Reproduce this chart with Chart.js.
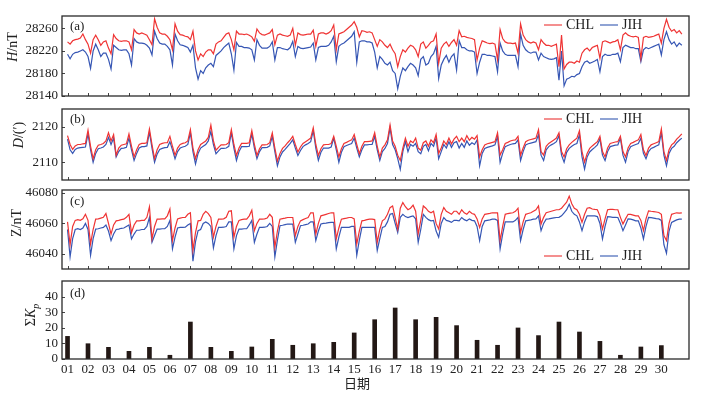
<!DOCTYPE html>
<html>
<head>
<meta charset="utf-8">
<script src="https://cdn.jsdelivr.net/npm/chart.js@4.4.0/dist/chart.umd.min.js"></script>
<style>
  html, body { margin: 0; padding: 0; background: #fff; }
  #wrap { position: relative; width: 702px; height: 394px; }
  #wrap canvas { position: absolute; left: 0; top: 0; }
</style>
</head>
<body>
<div id="wrap">
  <canvas id="chartH" width="702" height="394"></canvas>
  <canvas id="chartD" width="702" height="394"></canvas>
  <canvas id="chartZ" width="702" height="394"></canvas>
  <canvas id="chartKp" width="702" height="394"></canvas>
</div>
<script>
const days = ["01","02","03","04","05","06","07","08","09","10","11","12","13","14","15",
  "16","17","18","19","20","21","22","23","24","25","26","27","28","29","30"];

// daily sum of Kp
const kpSum = [14.5, 9.8, 7.5, 4.9, 7.5, 2.4, 23.7, 7.5, 4.9, 7.7, 12.6, 8.8, 9.8, 10.7, 16.7,
  25.2, 32.7, 25.2, 26.7, 21.4, 12, 8.8, 19.9, 15, 23.7, 17.3, 11.3, 2.4, 7.7, 8.6];

const hTicks = [28140, 28180, 28220, 28260];
const dTicks = [2110, 2120];
const zTicks = [46040, 46060, 46080];
const kpTicks = [0, 10, 20, 30, 40];

// 3-hourly readings (8 per day) + last point
const hCHL = [
  28236,28232,28238,28240,28241,28243,28250,28240, 28232,28216,28240,28248,28240,28230,28236,28238,
  28225,28215,28249,28242,28238,28237,28238,28238, 28236,28222,28258,28252,28250,28252,28250,28248,
  28240,28231,28277,28262,28252,28250,28250,28246, 28240,28222,28268,28255,28249,28248,28246,28245,
  28240,28255,28220,28204,28215,28210,28218,28222, 28222,28215,28232,28236,28238,28244,28250,28252,
  28240,28222,28255,28250,28250,28249,28250,28248, 28245,28237,28259,28252,28249,28248,28250,28252,
  28258,28231,28248,28250,28248,28247,28246,28248, 28260,28230,28252,28249,28248,28249,28250,28250,
  28257,28228,28250,28252,28252,28250,28252,28256, 28266,28222,28250,28252,28254,28258,28262,28266,
  28272,28262,28245,28256,28255,28253,28254,28252, 28240,28228,28240,28236,28230,28226,28232,28222,
  28215,28192,28210,28222,28218,28225,28230,28228, 28222,28210,28232,28236,28225,28230,28236,28238,
  28250,28198,28225,28232,28236,28228,28235,28240, 28230,28256,28245,28246,28244,28243,28242,28240,
  28204,28225,28238,28236,28234,28233,28234,28232, 28204,28258,28242,28236,28234,28234,28233,28234,
  28216,28268,28248,28240,28236,28234,28236,28234, 28222,28240,28234,28230,28230,28228,28230,28232,
  28192,28248,28188,28196,28200,28200,28198,28202, 28200,28216,28222,28225,28220,28226,28228,28230,
  28207,28236,28238,28236,28234,28236,28237,28240, 28222,28248,28252,28248,28246,28245,28246,28244,
  28207,28244,28246,28244,28245,28246,28248,28250, 28234,28260,28276,28262,28255,28258,28252,28256,
  28250
];
const hJIH = [
  28214,28206,28214,28217,28218,28220,28222,28218, 28210,28189,28220,28232,28222,28210,28216,28216,
  28205,28188,28230,28226,28222,28221,28222,28222, 28215,28195,28242,28236,28234,28234,28233,28230,
  28225,28213,28255,28242,28234,28232,28232,28228, 28222,28195,28250,28238,28231,28230,28228,28226,
  28218,28230,28190,28170,28185,28180,28190,28195, 28198,28192,28212,28216,28220,28226,28230,28234,
  28215,28186,28235,28228,28228,28226,28226,28225, 28222,28204,28240,28230,28225,28225,28225,28228,
  28236,28204,28226,28226,28224,28223,28222,28226, 28237,28210,28228,28225,28224,28225,28226,28227,
  28234,28204,28226,28228,28228,28228,28230,28236, 28246,28201,28228,28232,28234,28238,28242,28246,
  28254,28200,28236,28238,28238,28236,28236,28234, 28218,28190,28210,28205,28198,28195,28200,28185,
  28180,28153,28175,28190,28185,28192,28198,28195, 28190,28176,28205,28210,28195,28198,28210,28215,
  28228,28171,28195,28205,28212,28200,28210,28215, 28186,28238,28226,28226,28222,28220,28220,28218,
  28180,28200,28214,28214,28212,28212,28211,28210, 28183,28234,28220,28214,28212,28212,28212,28212,
  28192,28250,28230,28222,28218,28216,28218,28218, 28204,28216,28210,28208,28206,28205,28206,28208,
  28168,28220,28158,28170,28172,28175,28174,28178, 28180,28192,28200,28202,28198,28200,28202,28205,
  28183,28210,28214,28212,28212,28214,28214,28216, 28201,28226,28230,28228,28226,28226,28224,28224,
  28201,28222,28226,28224,28226,28228,28230,28232, 28213,28240,28254,28240,28232,28236,28228,28234,
  28230
];

const dCHL = [
  2117.5,2115,2113.6,2114.6,2115,2115,2115.2,2115.3, 2119,2114.5,2111,2113.5,2114.8,2115,2115.3,2116,
  2118.3,2116,2117.8,2112,2114,2114.8,2115,2115.2, 2118,2114.5,2111.5,2113.5,2115,2115.3,2115.3,2115.5,
  2119.4,2115,2111,2113.5,2115,2115.3,2115.5,2115.5, 2117.3,2114.5,2112,2114,2115,2115.3,2115.5,2116,
  2119.2,2114,2111,2113.5,2115,2115.5,2116,2117, 2120.5,2116,2113.4,2114.2,2114.9,2114.9,2115,2115.5,
  2119.2,2115,2111.9,2114,2115.3,2115.3,2115.3,2115.5, 2118.9,2115,2111.9,2113.8,2114.9,2114.9,2115,2115.5,
  2118.3,2114,2110.3,2112.5,2113.9,2114.6,2115.5,2116.3, 2117.3,2115,2112.9,2114.3,2115.3,2115.8,2116.3,2116.8,
  2119.7,2115,2111.9,2113.8,2114.9,2115,2115,2115.3, 2117.3,2114.5,2111.5,2113.8,2115.3,2115.6,2116,2116.3,
  2117.8,2115,2112.4,2114.5,2115.8,2115.8,2115.9,2116, 2118.3,2114.5,2111.5,2114,2114.9,2116.3,2120.5,2116,
  2114.5,2112,2110.5,2114,2116.8,2114.5,2116,2115.5, 2116.8,2114,2113.4,2115.5,2116,2114.5,2116.3,2115.5,
  2117.8,2112.5,2114,2116,2115,2116.8,2115.2,2116.5, 2117.3,2115.8,2116.8,2115.8,2117.5,2116.2,2117,2116.5,
  2117.5,2111.5,2113.5,2114.9,2115.2,2115.4,2115.6,2115.8, 2118.3,2112,2113.5,2115.3,2115.6,2116,2116.2,2116.3,
  2117.3,2112,2114,2115.8,2116.2,2116.4,2116.6,2116.8, 2119.2,2113,2112,2114.5,2115.3,2115.8,2116.3,2116.8,
  2118.3,2113,2111.5,2113.8,2114.9,2115.6,2116.2,2116.8, 2118.9,2113,2110,2112.5,2113.9,2114.6,2115.2,2115.8,
  2117.3,2113,2111.5,2114,2115.3,2115.5,2115.7,2115.8, 2117.3,2113,2111.5,2114,2115.3,2115.6,2116,2116.3,
  2117.8,2113.5,2111.9,2114,2114.9,2115.2,2115.5,2115.8, 2119.4,2113,2110.5,2113.5,2114.9,2115.5,2116.5,2117.2,
  2118
];
const dJIH = [
  2116.5,2113.5,2112.5,2113.6,2114,2114.1,2114.2,2114.3, 2118,2113.5,2110,2112.5,2113.8,2114,2114.3,2115,
  2117,2115,2116.8,2111.5,2113,2113.9,2114,2114.2, 2116.8,2113.5,2110.5,2112.5,2114,2114.4,2114.4,2114.6,
  2118.5,2114,2110,2112.3,2113.6,2113.9,2114.1,2114.2, 2115.8,2113.5,2111,2113,2114,2114.3,2114.5,2115,
  2118.3,2113,2109.5,2112.5,2114,2114.5,2115,2116, 2118.7,2115,2112.4,2113.2,2113.9,2113.9,2114,2114.5,
  2118.3,2114,2110.5,2113,2114.4,2114.4,2114.4,2114.5, 2118,2114,2111,2113,2114.1,2114.1,2114.2,2114.6,
  2117.3,2113,2109,2111.5,2112.9,2113.6,2114.5,2115.3, 2116.3,2114,2111.9,2113.3,2114.4,2114.9,2115.3,2115.8,
  2118.9,2114,2110.5,2112.8,2114,2114,2114,2114.3, 2116.8,2113.5,2110,2112.8,2114.4,2114.7,2115,2115.3,
  2116.8,2114,2111.5,2113.5,2114.9,2114.9,2115,2115, 2117.3,2113.5,2110.5,2113,2113.9,2115.3,2119.7,2115,
  2113.5,2111,2108,2113,2115.8,2113,2115,2114.5, 2115.3,2113,2112.4,2114.5,2115,2113.2,2115.3,2114.5,
  2116.8,2111,2113,2115,2114,2115.8,2114.2,2115.5, 2115.8,2114,2115.3,2114.2,2116,2114.8,2115.5,2115,
  2116.3,2109,2112.5,2113.9,2114.2,2114.4,2114.6,2114.9, 2117.3,2110,2112.5,2114.4,2114.7,2115,2115.2,2115.3,
  2116.3,2110.5,2113,2114.9,2115.2,2115.4,2115.6,2115.8, 2117.8,2112,2110.5,2113.5,2114.4,2114.9,2115.3,2115.8,
  2117.5,2112,2110,2112.8,2113.9,2114.5,2115,2115.3, 2117.8,2111.5,2108.1,2111.5,2112.9,2113.6,2114.2,2114.9,
  2116.6,2112,2110.5,2113,2114.4,2114.6,2114.8,2114.9, 2116.8,2112,2110,2113,2114.4,2114.7,2115,2115.3,
  2116.8,2112.5,2111,2113,2113.9,2114.2,2114.6,2114.9, 2118.3,2112,2109,2112.5,2113.9,2114.5,2115.5,2116.2,
  2116.8
];

const zCHL = [
  46061,46046,46058,46062,46062.5,46062,46063,46066, 46062,46046.5,46056,46062.8,46063,46063.5,46064,46066.5,
  46060,46053,46059,46061.7,46062,46062.5,46062.8,46064, 46066,46054,46059,46061.7,46061.7,46062,46062,46064,
  46071,46049.8,46058,46062.8,46062.8,46063,46063,46065, 46069.5,46048.7,46057,46063,46063.5,46063.9,46064,46066,
  46067,46042.2,46054,46061.7,46062,46066,46068,46066.5, 46064,46050.9,46058,46062.8,46062.8,46063,46064,46068,
  46068.3,46050.9,46058,46062,46062.5,46062.8,46062.8,46065, 46068.7,46055.2,46060,46062.8,46062.8,46063,46063.5,46066,
  46064,46044.3,46055,46062.8,46063.2,46063.5,46063.9,46063.9, 46063.9,46052,46058,46061.7,46062.5,46063.2,46063.9,46067,
  46067,46053,46060,46065,46065.5,46066,46066.5,46067, 46067,46049.8,46057,46062.8,46063.2,46063.5,46063.9,46063.9,
  46063,46046.5,46055,46061.7,46062,46062.5,46062.8,46062.8, 46062.5,46047.6,46056,46061.7,46063,46066,46070.4,46071.5,
  46064,46056.3,46070,46073.7,46071,46069,46070,46072, 46068,46053,46062,46071.5,46070,46068,46067,46068,
  46060,46056.3,46066,46070.4,46068,46067,46066,46068, 46068,46066,46069,46067,46066,46068,46066.5,46066,
  46063,46057.4,46063,46066,46066.3,46066.6,46067,46067, 46067,46048.7,46058,46066,46066.5,46066.8,46067,46068,
  46070,46054,46061,46066,46066.5,46067,46068,46069, 46071.5,46059.6,46064,46067,46067.5,46068,46068.5,46069,
  46069,46070,46072,46074,46078,46073,46070,46069, 46066,46060.7,46066,46070,46070.4,46069.5,46069.2,46069,
  46065,46056.3,46063,46069,46069.2,46069.2,46069,46069, 46064,46059.6,46063,46066,46066,46065.5,46065,46065,
  46062,46055.2,46063,46068.3,46068,46067.8,46067.5,46067.2, 46066,46052,46048.7,46060,46066,46066.5,46067,46066.8,
  46067
];
const zJIH = [
  46056,46038,46050,46056,46056.5,46056,46057,46060, 46056,46039,46050,46056.3,46056.5,46057,46057.4,46059,
  46055,46048.7,46053,46056,46056.3,46056.8,46057,46058, 46059,46049.8,46053,46055.5,46055.5,46056,46056,46058,
  46064,46047.6,46052,46056.3,46056.3,46056.5,46056.5,46058, 46062,46043.3,46051,46057,46057.4,46057.4,46057.5,46059,
  46060,46035.2,46048,46055.2,46056,46060,46061,46060, 46058,46044,46052,46057.4,46057.4,46057.5,46058,46061,
  46061,46043.3,46052,46056.3,46056.3,46056.5,46056.5,46059, 46062,46047.6,46053,46057.4,46057.4,46057.5,46058,46060,
  46058,46038,46049,46058.5,46058.8,46059.2,46059.6,46059.6, 46059.6,46047.6,46053,46058.5,46058.8,46059.2,46059.6,46061,
  46061,46048.7,46055,46059.6,46060,46060.2,46060.5,46060.7, 46060.7,46043.3,46051,46057.4,46057.4,46057.4,46057.4,46058,
  46058,46039,46049,46057.4,46057.4,46057.4,46057.4,46057.4, 46057.4,46042.2,46050,46057.4,46058,46061,46066,46066.5,
  46060,46054,46064,46066,46064.5,46063.9,46064.5,46065, 46063,46047.6,46056,46066,46064,46062.5,46061.7,46062,
  46055,46050.9,46060,46063.9,46062,46061.5,46060.7,46062, 46062,46061.7,46063.9,46062.5,46061.7,46063,46062,46061.7,
  46058,46048.7,46058,46061.7,46062,46062.3,46062.8,46062.8, 46062,46043.3,46053,46061,46061,46061,46061,46062,
  46064,46048.7,46056,46061.7,46062,46062.3,46062.8,46063, 46065,46055.2,46060,46062.8,46063,46063.3,46063.6,46063.9,
  46064,46065,46067,46069,46072.6,46068,46066,46065, 46061,46055.2,46061,46065,46065,46065,46065,46064.5,
  46060,46049.8,46058,46064.5,46064.3,46064,46064,46063.9, 46060,46055.2,46059,46063,46062.8,46062.3,46061.7,46061.7,
  46057,46049.8,46058,46064,46063.8,46063.5,46063.2,46063, 46062,46046,46040.4,46055,46060.7,46061.5,46062.3,46062.8,
  46062.8
];

const SERIF = '"Liberation Serif", "Times New Roman", serif';
const RED = "#ef3434";
const BLUE = "#3656b4";
const PER_DAY = 8;
const X_MIN = -0.27;
const X_MAX = 30.35;

function toPoints(arr) {
  return arr.map((v, i) => ({ x: i / PER_DAY, y: v }));
}

function titleFont(p) {
  return (p.it ? "italic " : "") + (p.sub ? "10px " : "14px ") + SERIF;
}

// frame, inward ticks, panel letter, axis title and legend
const deco = {
  id: "deco",
  afterDraw(chart, args, o) {
    const ctx = chart.ctx, a = chart.chartArea;
    const xs = chart.scales.x, ys = chart.scales.y;
    ctx.save();

    ctx.lineWidth = 1;
    ctx.strokeStyle = "#444";
    ctx.beginPath();
    if (o.xTicks) {
      days.forEach((d, i) => {
        const px = Math.round(xs.getPixelForValue(i)) + 0.5;
        ctx.moveTo(px, a.bottom);
        ctx.lineTo(px, a.bottom - 3);
      });
    }
    ys.ticks.forEach(t => {
      const py = Math.round(ys.getPixelForValue(t.value)) + 0.5;
      ctx.moveTo(a.left, py);
      ctx.lineTo(a.left + 3, py);
    });
    ctx.stroke();

    ctx.lineWidth = 1.3;
    ctx.strokeStyle = "#2a2a2a";
    ctx.strokeRect(a.left, a.top, a.right - a.left, a.bottom - a.top);

    ctx.fillStyle = "#222";
    ctx.font = "13px " + SERIF;
    ctx.textAlign = "left";
    ctx.textBaseline = "alphabetic";
    ctx.fillText(o.letter, a.left + 8, o.letterY);

    ctx.save();
    ctx.translate(o.titleX, o.titleY);
    ctx.rotate(-Math.PI / 2);
    ctx.textBaseline = "middle";
    let w = 0;
    o.title.forEach(p => { ctx.font = titleFont(p); w += ctx.measureText(p.t).width; });
    let x = -w / 2;
    o.title.forEach(p => {
      ctx.font = titleFont(p);
      ctx.fillText(p.t, x, p.sub ? 5 : 0);
      x += ctx.measureText(p.t).width;
    });
    ctx.restore();

    if (o.legendY) {
      const swatch = { CHL: "#f06a6a", JIH: "#6a84c6" };
      let lx = a.right - 145;
      ctx.font = "14px " + SERIF;
      ctx.textBaseline = "middle";
      chart.data.datasets.forEach(ds => {
        ctx.strokeStyle = swatch[ds.label];
        ctx.lineWidth = 1.5;
        ctx.beginPath();
        ctx.moveTo(lx, o.legendY);
        ctx.lineTo(lx + 18, o.legendY);
        ctx.stroke();
        ctx.fillText(ds.label, lx + 22, o.legendY);
        lx += 22 + ctx.measureText(ds.label).width + 6;
      });
    }

    if (o.xTitle) {
      ctx.font = '13px "Noto Sans CJK SC"';
      ctx.textAlign = "center";
      ctx.textBaseline = "middle";
      ctx.fillText(o.xTitle, 357, 383);
    }
    ctx.restore();
  }
};

function panelOptions(p) {
  return {
    responsive: false,
    animation: false,
    devicePixelRatio: 1,
    layout: { padding: { left: 0, right: 13, top: p.top, bottom: p.bottom } },
    plugins: {
      legend: { display: false },
      tooltip: { enabled: false },
      deco: p.deco
    },
    scales: {
      x: {
        type: "linear",
        min: X_MIN,
        max: X_MAX,
        offset: false,
        display: !!p.showDays,
        grid: { display: false, drawTicks: false },
        border: { display: false },
        afterBuildTicks: s => { s.ticks = days.map((d, i) => ({ value: i })); },
        afterFit: s => { s.height = p.showDays ? 35 : 0; },
        ticks: {
          autoSkip: false, maxRotation: 0, padding: 3, color: "#222",
          font: { family: SERIF, size: 13 },
          callback: v => days[v]
        }
      },
      y: {
        min: p.min,
        max: p.max,
        grid: { display: false, drawTicks: false },
        border: { display: false },
        afterBuildTicks: s => { s.ticks = p.ticks.map(v => ({ value: v })); },
        afterFit: s => { s.width = 62; },
        ticks: {
          padding: 4, color: "#222",
          font: { family: SERIF, size: 13 },
          callback: v => String(v)
        }
      }
    }
  };
}

function seriesChart(id, chl, jih, p) {
  return new Chart(document.getElementById(id), {
    type: "line",
    data: {
      datasets: [
        { label: "CHL", data: toPoints(chl), borderColor: RED, borderWidth: 1.2, pointRadius: 0, tension: 0 },
        { label: "JIH", data: toPoints(jih), borderColor: BLUE, borderWidth: 1.2, pointRadius: 0, tension: 0 }
      ]
    },
    options: panelOptions(p),
    plugins: [deco]
  });
}

seriesChart("chartH", hCHL, hJIH, {
  top: 16, bottom: 298, min: 28140, max: 28282, ticks: hTicks,
  deco: { xTicks: true, letter: "(a)", letterY: 30, title: [{ t: "H", it: true }, { t: "/nT" }],
    titleX: 13, titleY: 47, legendY: 25 }
});

seriesChart("chartD", dCHL, dJIH, {
  top: 109, bottom: 214, min: 2105, max: 2125, ticks: dTicks,
  deco: { xTicks: true, letter: "(b)", letterY: 123, title: [{ t: "D", it: true }, { t: "/(\u2032)" }],
    titleX: 19, titleY: 135, legendY: 119 }
});

seriesChart("chartZ", zCHL, zJIH, {
  top: 190, bottom: 125, min: 46030, max: 46082, ticks: zTicks,
  deco: { xTicks: true, letter: "(c)", letterY: 205, title: [{ t: "Z" }, { t: "/nT" }],
    titleX: 17, titleY: 223, legendY: 256 }
});

new Chart(document.getElementById("chartKp"), {
  type: "bar",
  data: {
    datasets: [{
      label: "\u03a3Kp",
      data: kpSum.map((v, i) => ({ x: i, y: v })),
      backgroundColor: "#231815",
      barThickness: 4
    }]
  },
  options: panelOptions({
    top: 281, bottom: 0, min: 0, max: 50, ticks: kpTicks, showDays: true,
    deco: { xTicks: false, letter: "(d)", letterY: 297,
      title: [{ t: "\u03a3" }, { t: "K", it: true }, { t: "p", it: true, sub: true }],
      titleX: 31, titleY: 315, xTitle: "\u65e5\u671f" }
  }),
  plugins: [deco]
});
</script>
</body>
</html>
